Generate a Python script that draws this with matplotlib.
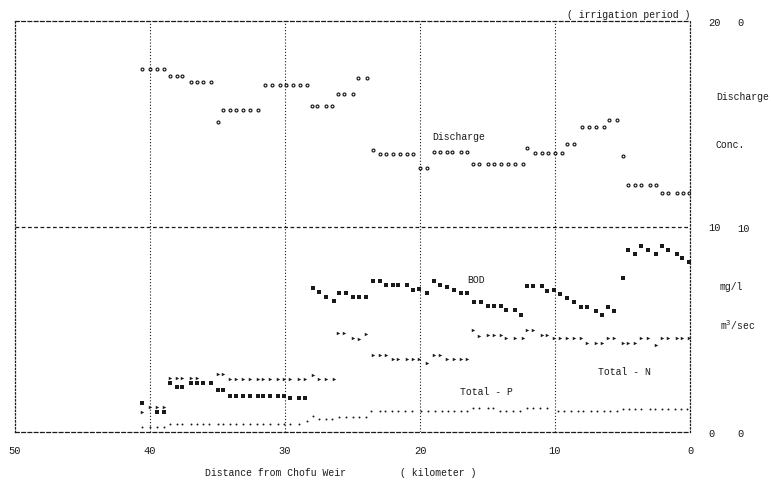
import matplotlib
matplotlib.use('Agg')
import matplotlib.pyplot as plt
import numpy as np

# distance from Chofu Weir (km) and values along the river

# discharge (m3/sec), plotted on an inverted scale
dis_km = [40.6, 40.0, 39.5, 39.0, 38.5, 38.0, 37.6, 37.0, 36.5, 36.1, 35.5,
          35.0, 34.6, 34.1, 33.6, 33.1, 32.6, 32.0,
          31.5, 31.0, 30.4, 29.9, 29.4, 28.9, 28.4,
          28.0, 27.6, 27.0, 26.5, 26.1, 25.6, 25.0, 24.6, 23.9,
          23.5, 23.0, 22.5, 22.0, 21.5, 21.0, 20.5, 20.0, 19.5,
          19.0, 18.5, 18.0, 17.6, 17.0, 16.5,
          16.1, 15.6, 15.0, 14.5, 14.0, 13.5, 13.0, 12.4, 12.1,
          11.5, 11.0, 10.5, 10.0, 9.5, 9.1, 8.6,
          8.0, 7.5, 7.0, 6.4, 6.0, 5.4, 5.0,
          4.6, 4.1, 3.6, 3.0, 2.5, 2.1, 1.6, 1.0, 0.5, 0.1]
dis_val = [2.34, 2.34, 2.34, 2.34, 2.68, 2.68, 2.68, 2.97, 2.97, 2.97, 2.97,
           4.91, 4.33, 4.33, 4.33, 4.33, 4.33, 4.33,
           3.11, 3.11, 3.11, 3.11, 3.11, 3.11, 3.11,
           4.14, 4.14, 4.14, 4.14, 3.55, 3.55, 3.55, 2.77, 2.77,
           6.28, 6.47, 6.47, 6.47, 6.47, 6.47, 6.47, 7.15, 7.15,
           6.37, 6.37, 6.37, 6.37, 6.37, 6.37,
           6.96, 6.96, 6.96, 6.96, 6.96, 6.96, 6.96, 6.96, 6.18,
           6.42, 6.42, 6.42, 6.42, 6.42, 5.99, 5.99,
           5.16, 5.16, 5.16, 5.16, 4.82, 4.82, 6.57,
           7.98, 7.98, 7.98, 7.98, 7.98, 8.37, 8.37, 8.37, 8.37, 8.37]

# BOD (mg/l)
bod_km = [40.6, 39.5, 39.0, 38.5, 38.0, 37.6, 37.0, 36.5, 36.1, 35.5,
          35.0, 34.6, 34.1, 33.6, 33.1, 32.6, 32.0, 31.6, 31.1, 30.5, 30.1,
          29.6, 29.0, 28.5,
          27.9, 27.5, 27.0, 26.4, 26.0, 25.5, 25.0, 24.5, 24.0,
          23.5, 23.0, 22.5, 22.0, 21.6, 21.0, 20.5, 20.1, 19.5,
          19.0, 18.5, 18.0, 17.5, 17.0, 16.5, 16.0, 15.5, 15.0,
          14.5, 14.0, 13.6, 13.0, 12.5, 12.1, 11.6, 11.0, 10.6, 10.1,
          9.6, 9.1, 8.6, 8.1, 7.6, 7.0, 6.5, 6.1, 5.6, 5.0,
          4.6, 4.1, 3.6, 3.1, 2.5, 2.1, 1.6, 1.0, 0.6, 0.1]
bod_val = [1.41, 0.97, 0.97, 2.38, 2.19, 2.19, 2.38, 2.38, 2.38, 2.38,
           2.04, 2.04, 1.75, 1.75, 1.75, 1.75, 1.75, 1.75, 1.75, 1.75, 1.75,
           1.65, 1.65, 1.65,
           7.01, 6.81, 6.57, 6.37, 6.76, 6.76, 6.57, 6.57, 6.57,
           7.35, 7.35, 7.15, 7.15, 7.15, 7.15, 6.91, 6.96, 6.76,
           7.35, 7.15, 7.06, 6.91, 6.76, 6.76, 6.33, 6.33, 6.13,
           6.13, 6.13, 5.94, 5.94, 5.69, 7.10, 7.10, 7.10, 6.86, 6.91,
           6.72, 6.52, 6.33, 6.08, 6.08, 5.89, 5.69, 6.08, 5.89, 7.49,
           8.86, 8.66, 9.05, 8.86, 8.66, 9.05, 8.86, 8.66, 8.47, 8.27]

# Total - N (mg/l)
tn_km = [40.6, 40.0, 39.5, 39.0, 38.5, 38.0, 37.6, 37.0, 36.5,
         35.0, 34.6, 34.1, 33.6, 33.1, 32.6, 32.0, 31.6, 31.1, 30.5, 30.1,
         29.6, 29.0, 28.5, 27.9, 27.5, 27.0, 26.4,
         26.1, 25.6, 25.0, 24.5, 24.0,
         23.5, 23.0, 22.5, 22.0, 21.6, 21.0, 20.5, 20.1, 19.5,
         19.0, 18.5, 18.0, 17.5, 17.0, 16.5,
         16.1, 15.6, 15.0, 14.5, 14.0, 13.6, 13.0, 12.4, 12.1, 11.6, 11.0, 10.6,
         10.1, 9.6, 9.1, 8.6, 8.1, 7.6, 7.0, 6.5, 6.1, 5.6, 5.0, 4.6, 4.1,
         3.6, 3.1, 2.5, 2.1, 1.6, 1.0, 0.6, 0.1]
tn_val = [0.97, 1.22, 1.22, 1.22, 2.63, 2.63, 2.63, 2.63, 2.63,
          2.82, 2.82, 2.58, 2.58, 2.58, 2.58, 2.58, 2.58, 2.58, 2.58, 2.58,
          2.58, 2.58, 2.58, 2.77, 2.58, 2.58, 2.58,
          4.82, 4.82, 4.57, 4.53, 4.77,
          3.75, 3.75, 3.75, 3.55, 3.55, 3.55, 3.55, 3.55, 3.36,
          3.75, 3.75, 3.55, 3.55, 3.55, 3.55,
          4.96, 4.67, 4.72, 4.72, 4.72, 4.57, 4.57, 4.57, 4.96, 4.96, 4.72, 4.72,
          4.57, 4.57, 4.57, 4.57, 4.57, 4.33, 4.33, 4.33, 4.57, 4.57, 4.33, 4.33, 4.33,
          4.57, 4.57, 4.23, 4.57, 4.57, 4.57, 4.57, 4.57]

# Total - P (mg/l)
tp_km = [40.6, 40.0, 39.5, 39.0,
         38.5, 38.0, 37.6, 37.0, 36.5, 36.1, 35.6, 35.0, 34.6, 34.1,
         33.6, 33.1, 32.6, 32.1, 31.6, 31.1, 30.5, 30.1, 29.6, 29.0,
         28.4, 27.9, 27.5, 27.0, 26.5, 26.0, 25.5, 25.0, 24.5, 24.0,
         23.6, 23.0, 22.6, 22.1, 21.6, 21.1, 20.6,
         19.9, 19.4, 18.9, 18.4, 17.9, 17.5, 17.0, 16.5,
         16.1, 15.6, 15.0, 14.6, 14.1, 13.6, 13.1, 12.6, 12.1, 11.6, 11.1, 10.6,
         9.8, 9.3, 8.8, 8.3, 7.9, 7.3, 6.9, 6.4, 5.9, 5.4,
         5.0, 4.5, 4.1, 3.6, 3.0, 2.6, 2.1, 1.6, 1.1, 0.7, 0.2]
tp_val = [0.24, 0.24, 0.24, 0.24,
          0.39, 0.39, 0.39, 0.39, 0.39, 0.39, 0.39, 0.39, 0.39, 0.39,
          0.39, 0.39, 0.39, 0.39, 0.39, 0.39, 0.39, 0.39, 0.39, 0.39,
          0.54, 0.78, 0.63, 0.63, 0.63, 0.73, 0.73, 0.73, 0.73, 0.73,
          1.02, 1.02, 1.02, 1.02, 1.02, 1.02, 1.02,
          1.02, 1.02, 1.02, 1.02, 1.02, 1.02, 1.02, 1.02,
          1.17, 1.17, 1.17, 1.17, 1.02, 1.02, 1.02, 1.02, 1.17, 1.17, 1.17, 1.17,
          1.02, 1.02, 1.02, 1.02, 1.02, 1.02, 1.02, 1.02, 1.02, 1.02,
          1.12, 1.12, 1.12, 1.12, 1.12, 1.12, 1.12, 1.12, 1.12, 1.12, 1.12]

km_ticks = [50, 40, 30, 20, 10, 0]
conc_ticks = [0, 10, 20]
dis_ticks = [0, 10, 20]
dis_tick_labels = ['0', '10', '0']

ink = '#1a1a1a'
mono = 'Liberation Mono'
W, H = 771, 485

fig = plt.figure(figsize=(W / 100, H / 100), dpi=100)
ax = fig.add_axes([15 / W, 1 - 433 / H, (690 - 15) / W, (433 - 22) / H])
ax.set_xlim(50, 0)
ax.set_ylim(0, 20)

# discharge on its own inverted scale
ax2 = ax.twinx()
ax2.set_ylim(20, 0)
for s in ax2.spines.values():
    s.set_visible(False)

# frame: dashed top/bottom, dotted sides
for side in ['top', 'bottom']:
    ax.spines[side].set_linestyle((0, (3, 2)))
    ax.spines[side].set_linewidth(0.9)
    ax.spines[side].set_color(ink)
for side in ['left', 'right']:
    ax.spines[side].set_linestyle((0, (1, 1.8)))
    ax.spines[side].set_linewidth(0.9)
    ax.spines[side].set_color(ink)

for k in [40, 30, 20, 10]:
    ax.axvline(k, color=ink, lw=0.8, ls=(0, (1, 1.8)))
ax.axhline(10, color=ink, lw=0.9, ls=(0, (3, 2)))

ax.plot(bod_km, bod_val, ls='none', marker='s', ms=2.4, color=ink, mew=0)
ax.plot(tn_km, tn_val, ls='none', marker='>', ms=2.5, color=ink, mew=0)
ax.plot(tp_km, tp_val, ls='none', marker='o', ms=1.4, color=ink, mew=0)
ax2.plot(dis_km, dis_val, ls='none', marker='o', ms=2.1, mfc='none',
         mec=ink, mew=0.85)

ax.set_xticks(km_ticks)
ax.set_xticklabels([str(k) for k in km_ticks], fontfamily=mono, fontsize=7.5)
ax.tick_params(axis='x', length=0, pad=9, colors=ink)

ax.yaxis.tick_right()
ax.set_yticks(conc_ticks)
ax.set_yticklabels([str(c) for c in conc_ticks], fontfamily=mono, fontsize=7.5)
ax.tick_params(axis='y', which='both', left=False, labelleft=False,
               right=False, labelright=True, length=0, pad=13, colors=ink)

ax2.set_yticks(dis_ticks)
ax2.set_yticklabels(dis_tick_labels, fontfamily=mono, fontsize=7.5)
ax2.tick_params(axis='y', length=0, pad=34, colors=ink)

tkw = dict(fontfamily=mono, fontsize=7, color=ink, va='center')
ax.text(19.1, 14.4, 'Discharge', **tkw)
ax.text(16.5, 7.45, 'BOD', **tkw)
ax.text(6.8, 2.97, 'Total - N', **tkw)
ax.text(17.0, 2.0, 'Total - P', **tkw)

fig.text(690 / W, 1 - 15 / H, '( irrigation period )', ha='right', **tkw)
fig.text(716 / W, 1 - 97 / H, 'Discharge', ha='left', **tkw)
fig.text(716 / W, 1 - 145 / H, 'Conc.', ha='left', **tkw)
fig.text(720 / W, 1 - 287 / H, 'mg/l', ha='left', **tkw)
fig.text(720 / W, 1 - 325 / H, r'm$^3$/sec', ha='left', **tkw)
fig.text(205 / W, 1 - 473 / H, 'Distance from Chofu Weir', ha='left', **tkw)
fig.text(400 / W, 1 - 473 / H, '( kilometer )', ha='left', **tkw)

fig.savefig('out.png', dpi=100)
